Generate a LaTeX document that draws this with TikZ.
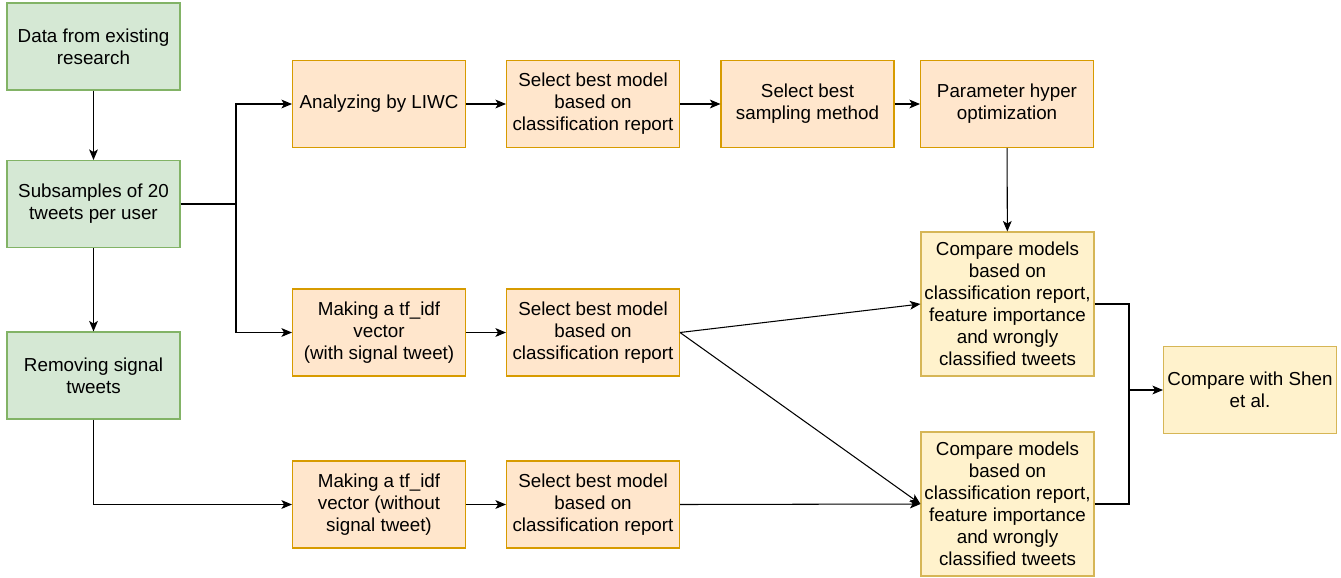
\documentclass[tikz,border=0pt]{standalone}
\usepackage{fontspec}
\setmainfont{Liberation Sans}
\definecolor{dgreen}{HTML}{D5E8D4}
\definecolor{dgreenline}{HTML}{82B366}
\definecolor{dorange}{HTML}{FFE6CC}
\definecolor{dorangeline}{HTML}{D79B00}
\definecolor{dyellow}{HTML}{FFF2CC}
\definecolor{dyellowline}{HTML}{D6B656}
\usetikzlibrary{arrows.meta,positioning}

\begin{document}
\begin{tikzpicture}[
  box/.style={draw,line width=0.6pt,align=center,font=\fontsize{10.7}{12.5}\selectfont,
    minimum width=3.46cm,minimum height=1.74cm,inner sep=1pt},
  gbox/.style={box,fill=dgreen,draw=dgreenline},
  obox/.style={box,fill=dorange,draw=dorangeline},
  ybox/.style={box,fill=dyellow,draw=dyellowline},
  flow/.style={line width=0.6pt,-{Stealth[length=6pt,width=5pt,inset=1.5pt]}}
]
  \useasboundingbox (0,0) rectangle (26.82,-11.54);

  % data preparation
  \node[gbox] (data) at (1.87,-0.93) {Data from existing\\research};
  \node[gbox] (sub) at (1.87,-4.08) {Subsamples of 20\\tweets per user};
  \node[gbox] (rem) at (1.87,-7.51) {Removing signal\\tweets};

  % LIWC branch
  \node[obox] (liwc) at (7.58,-2.08) {Analyzing by LIWC};
  \node[obox] (sel1) at (11.86,-2.08) {Select best model\\based on\\classification report};
  \node[obox] (samp) at (16.15,-2.08) {Select best\\sampling method};
  \node[obox] (param) at (20.14,-2.08) {Parameter hyper\\optimization};

  % tf_idf branches
  \node[obox] (tfw) at (7.58,-6.65) {Making a tf\_idf\\vector\\(with signal tweet)};
  \node[obox] (sel2) at (11.86,-6.65) {Select best model\\based on\\classification report};
  \node[obox] (tfo) at (7.58,-10.09) {Making a tf\_idf\\vector (without\\signal tweet)};
  \node[obox] (sel3) at (11.86,-10.09) {Select best model\\based on\\classification report};

  % comparison
  \node[ybox,minimum height=2.88cm] (cmp1) at (20.15,-6.08) {Compare models\\based on\\classification report,\\feature importance\\and wrongly\\classified tweets};
  \node[ybox,minimum height=2.88cm] (cmp2) at (20.15,-10.08) {Compare models\\based on\\classification report,\\feature importance\\and wrongly\\classified tweets};
  \node[ybox] (shen) at (25.0,-7.80) {Compare with Shen\\et al.};

  \coordinate (split) at (4.72,-4.08);
  \coordinate (merge) at (22.58,-7.80);

  \draw[flow] (data) -- (sub);
  \draw[flow] (sub) -- (rem);
  \draw[line width=0.6pt] (sub.east) -- (split);
  \draw[flow] (split) |- (liwc.west);
  \draw[flow] (split) |- (tfw.west);
  \draw[flow] (rem.south) |- (tfo.west);

  \draw[flow] (liwc) -- (sel1);
  \draw[flow] (sel1) -- (samp);
  \draw[flow] (samp) -- (param);
  \draw[flow] (param) -- (cmp1);

  \draw[flow] (tfw) -- (sel2);
  \draw[flow] (tfo) -- (sel3);
  \draw[flow] (sel2.east) -- (cmp1.west);
  \draw[flow] (sel2.east) -- (cmp2.west);
  \draw[flow] (sel3.east) -- (cmp2.west);

  \draw[line width=0.6pt] (cmp1.east) -| (merge);
  \draw[line width=0.6pt] (cmp2.east) -| (merge);
  \draw[flow] (merge) -- (shen.west);
\end{tikzpicture}
\end{document}
